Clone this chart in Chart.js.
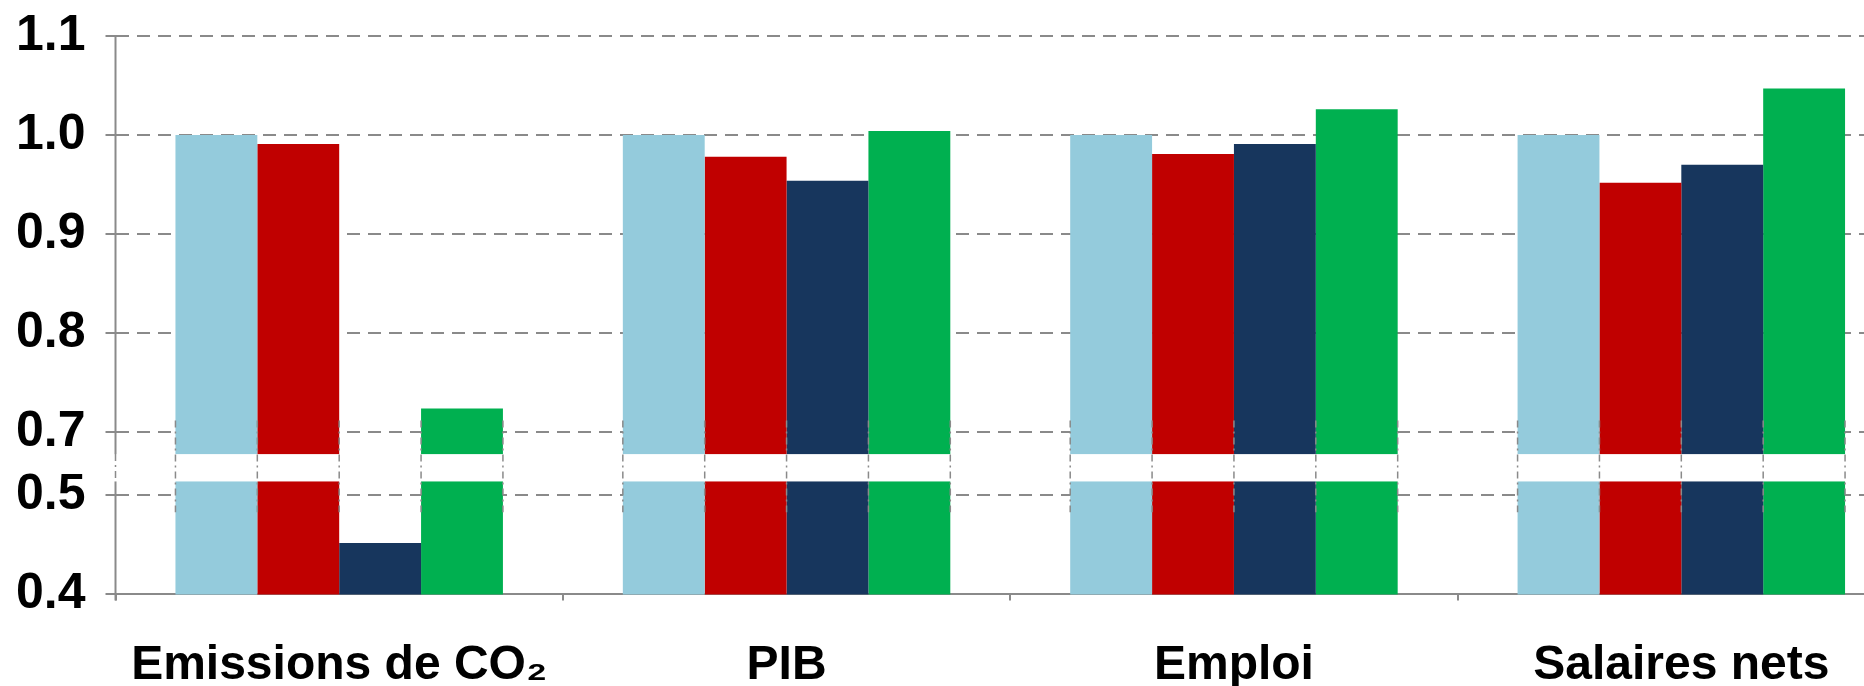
<!DOCTYPE html>
<html>
<head>
<meta charset="utf-8">
<script src="https://cdn.jsdelivr.net/npm/chart.js@4/dist/chart.umd.min.js"></script>
<style>
  html, body { margin: 0; padding: 0; background: #fff; overflow: hidden; }
  /* the original picture is cropped on the right, so the canvas is a bit wider than the window */
  #wrap { width: 1912px; height: 686px; position: relative; }
</style>
</head>
<body>
<div id="wrap"><canvas id="chart"></canvas></div>
<script>
const categories = ['Emissions de CO₂', 'PIB', 'Emploi', 'Salaires nets'];
const serieRef = [1.0, 1.0, 1.0, 1.0];
const serieRouge = [0.991, 0.978, 0.981, 0.952];
const serieBleu = [0.452, 0.954, 0.991, 0.970];
const serieVert = [0.724, 1.004, 1.026, 1.047];
const yTicks = [0.4, 0.5, 0.7, 0.8, 0.9, 1.0, 1.1];
const yTickLabels = ['0.4', '0.5', '0.7', '0.8', '0.9', '1.0', '1.1'];

// broken axis: everything above the cut is moved down so 0.5 -> 0.7 takes a small gap
const CUT = 0.6;
const SHIFT = 0.1364;
const toAxis = v => (v >= CUT ? v - SHIFT : v);

const BAND_LOW = 0.514, BAND_HIGH = 0.678;   // white band hiding the cut
const MARK_LOW = 0.483, MARK_HIGH = 0.712;   // dash-dot markers around it
const GRID = '#8a8a8a';
const FONT = 'Liberation Sans, Arial, sans-serif';

const breakPlugin = {
  id: 'axisBreak',
  afterDatasetsDraw(chart) {
    const { ctx, chartArea: a, scales: { y } } = chart;
    const yTop = y.getPixelForValue(toAxis(BAND_HIGH));
    const yBot = y.getPixelForValue(toAxis(BAND_LOW));
    const mTop = y.getPixelForValue(toAxis(MARK_HIGH));
    const mBot = y.getPixelForValue(toAxis(MARK_LOW));
    ctx.save();
    // y axis line
    ctx.strokeStyle = GRID;
    ctx.lineWidth = 2;
    ctx.beginPath();
    ctx.moveTo(a.left, a.top);
    ctx.lineTo(a.left, a.bottom + 6);
    ctx.stroke();
    // white band
    ctx.fillStyle = '#fff';
    ctx.fillRect(a.left - 2, yTop, a.right - a.left + 4, yBot - yTop);
    // dash-dot markers
    ctx.setLineDash([7, 4, 2, 4]);
    ctx.lineWidth = 1.5;
    ctx.beginPath();
    ctx.moveTo(a.left, yTop);
    ctx.lineTo(a.left, yBot);
    chart.data.datasets.forEach((ds, i) => {
      const meta = chart.getDatasetMeta(i);
      meta.data.forEach((bar, j) => {
        if (ds.raw[j] < BAND_HIGH) return;
        const half = bar.width / 2;
        [bar.x - half, bar.x + half].forEach(x => {
          ctx.moveTo(x, mTop);
          ctx.lineTo(x, mBot);
        });
      });
    });
    ctx.stroke();
    ctx.restore();
  }
};

const makeSet = (label, values, color) => ({
  label,
  raw: values,
  data: values.map(toAxis),
  backgroundColor: color,
  borderWidth: 0
});

new Chart(document.getElementById('chart'), {
  type: 'bar',
  data: {
    labels: categories,
    datasets: [
      makeSet('Référence', serieRef, '#94cbdc'),
      makeSet('Scénario 1', serieRouge, '#c00000'),
      makeSet('Scénario 2', serieBleu, '#17365d'),
      makeSet('Scénario 3', serieVert, '#00b050')
    ]
  },
  options: {
    responsive: true,
    maintainAspectRatio: false,
    animation: false,
    devicePixelRatio: 1,
    layout: { padding: { left: -4, right: 7, top: 36, bottom: -46 } },
    datasets: { bar: { categoryPercentage: 0.732, barPercentage: 1.0 } },
    plugins: { legend: { display: false }, tooltip: { enabled: false } },
    scales: {
      x: {
        grid: { display: true, drawOnChartArea: false, drawTicks: true, tickLength: 6, color: GRID, lineWidth: 2 },
        border: { display: true, color: GRID, width: 2 },
        ticks: {
          color: '#000',
          padding: 37,
          font: { family: FONT, size: 48, weight: 'bold' }
        }
      },
      y: {
        min: toAxis(0.4),
        max: toAxis(1.1),
        afterBuildTicks: scale => { scale.ticks = yTicks.map(v => ({ value: toAxis(v) })); },
        grid: { color: GRID, lineWidth: 2, tickLength: 10, tickBorderDash: [] },
        border: { display: false, dash: [13, 8] },
        ticks: {
          color: '#000',
          padding: 20,
          font: { family: FONT, size: 50, weight: 'bold', lineHeight: 0.6 },
          callback: (val, i) => yTickLabels[i]
        }
      }
    }
  },
  plugins: [breakPlugin]
});
</script>
</body>
</html>
